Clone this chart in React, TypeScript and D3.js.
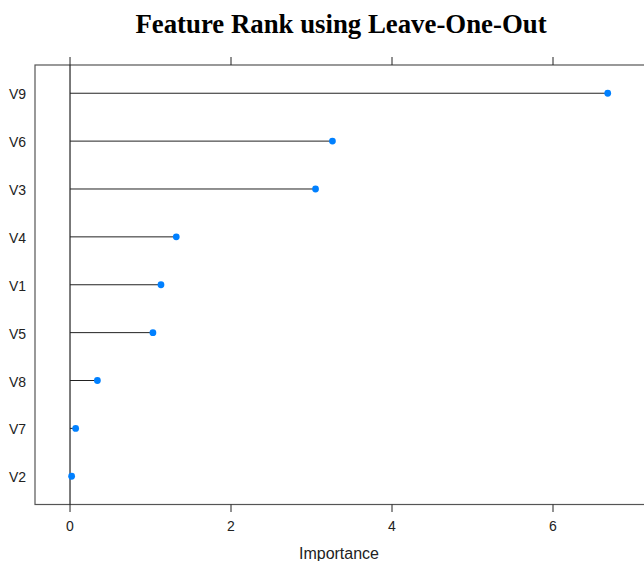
import React, { useEffect, useRef } from 'react';
import * as d3 from 'd3';

// features, top to bottom as drawn
const features = ['V9', 'V6', 'V3', 'V4', 'V1', 'V5', 'V8', 'V7', 'V2'];
const importance = [6.68, 3.26, 3.05, 1.32, 1.13, 1.03, 0.34, 0.07, 0.02];
const xTicks = [0, 2, 4, 6];

const App = () => {
  const ref = useRef<SVGSVGElement | null>(null);

  useEffect(() => {
    const width = 644;
    const height = 561;
    const left = 35;
    const top = 65;
    const bottom = 504.5;

    const svg = d3.select(ref.current);
    svg.selectAll('*').remove();

    const x = d3.scaleLinear().domain([-0.435, 7.2]).range([left, 649.6]);
    const y = d3.scalePoint().domain(features).range([top, bottom]).padding(0.59);

    // title
    svg
      .append('text')
      .attr('x', 341)
      .attr('y', 33)
      .attr('text-anchor', 'middle')
      .style('font', 'bold 26.8px "Liberation Serif", "Times New Roman", serif')
      .text('Feature Rank using Leave-One-Out');

    // frame
    svg
      .append('rect')
      .attr('x', left)
      .attr('y', top)
      .attr('width', 700)
      .attr('height', bottom - top)
      .attr('fill', 'none')
      .attr('stroke', '#555')
      .attr('stroke-width', 1.2);

    // ticks top and bottom
    const g = svg.append('g').attr('stroke', '#222').attr('stroke-width', 1);
    xTicks.forEach((t) => {
      g.append('line').attr('x1', x(t)).attr('x2', x(t)).attr('y1', top - 8).attr('y2', top);
      g.append('line').attr('x1', x(t)).attr('x2', x(t)).attr('y1', bottom).attr('y2', bottom + 7.5);
    });

    svg
      .append('g')
      .selectAll('text')
      .data(xTicks)
      .join('text')
      .attr('x', (d) => x(d))
      .attr('y', 531)
      .attr('text-anchor', 'middle')
      .attr('fill', '#222')
      .style('font', '14px "Liberation Sans", Arial, sans-serif')
      .text((d) => d);

    // zero reference line
    svg
      .append('line')
      .attr('x1', x(0))
      .attr('x2', x(0))
      .attr('y1', top)
      .attr('y2', bottom)
      .attr('stroke', '#222')
      .attr('stroke-width', 1.2);

    // y labels
    svg
      .append('g')
      .selectAll('text')
      .data(features)
      .join('text')
      .attr('x', 26)
      .attr('y', (d) => (y(d) as number) + 6)
      .attr('text-anchor', 'end')
      .attr('fill', '#222')
      .style('font', '14px "Liberation Sans", Arial, sans-serif')
      .text((d) => d);

    // lollipops
    svg
      .append('g')
      .selectAll('line')
      .data(features)
      .join('line')
      .attr('x1', x(0))
      .attr('x2', (d, i) => x(importance[i]))
      .attr('y1', (d) => y(d) as number)
      .attr('y2', (d) => y(d) as number)
      .attr('stroke', '#222')
      .attr('stroke-width', 1);

    svg
      .append('g')
      .selectAll('path')
      .data(features)
      .join('path')
      .attr('d', d3.symbol(d3.symbolCircle, 36))
      .attr('transform', (d, i) => `translate(${x(importance[i])},${y(d)})`)
      .attr('fill', '#0080ff');

    // axis title
    svg
      .append('text')
      .attr('x', 339)
      .attr('y', 559)
      .attr('text-anchor', 'middle')
      .attr('fill', '#222')
      .style('font', '16px "Liberation Sans", Arial, sans-serif')
      .text('Importance');

    svg.attr('width', width).attr('height', height);
  }, []);

  return (
    <div style={{ position: 'absolute', left: 0, top: 0, width: 644, height: 561, overflow: 'hidden', background: '#fff' }}>
      <svg ref={ref} style={{ display: 'block' }} />
    </div>
  );
};

export default App;
